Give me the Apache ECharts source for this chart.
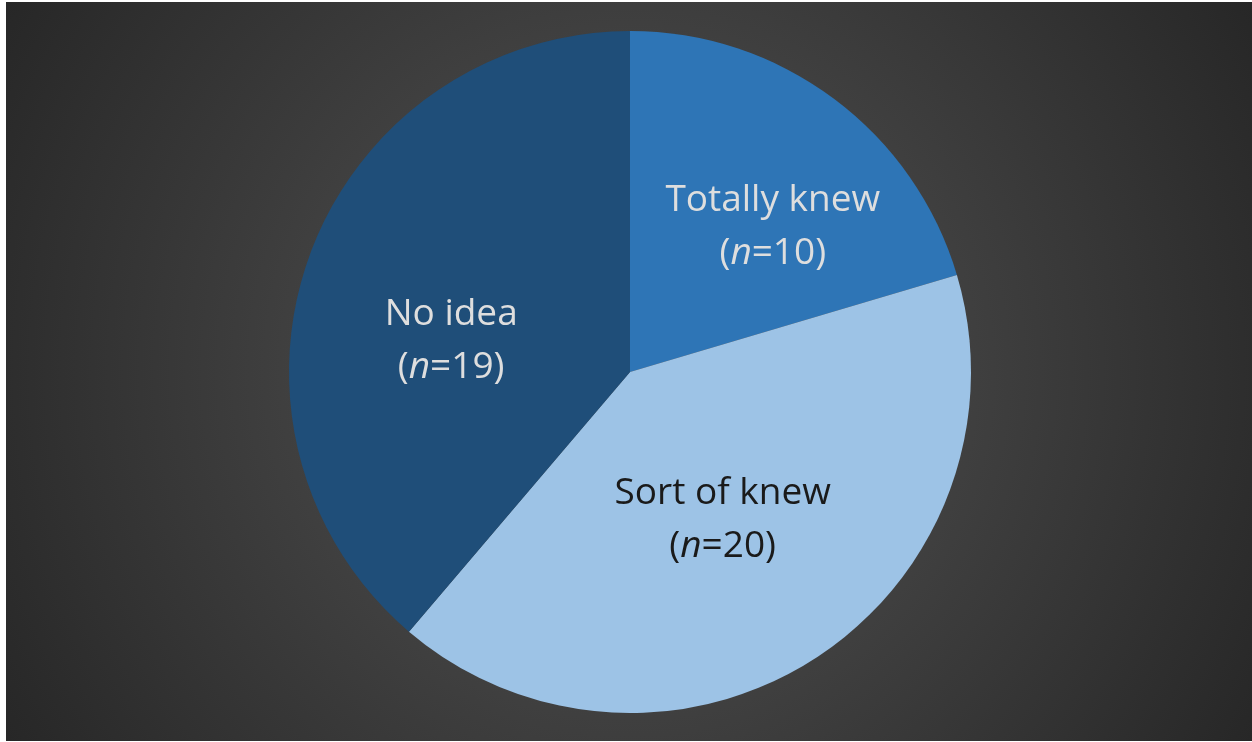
<!DOCTYPE html>
<html>
<head>
<meta charset="utf-8">
<script src="https://cdn.jsdelivr.net/npm/echarts@6/dist/echarts.min.js"></script>
<style>
  html, body { margin: 0; padding: 0; background: #ffffff; }
  #chart { width: 1252px; height: 742px; }
</style>
</head>
<body>
<div id="chart"></div>
<script>
// Survey responses, drawn clockwise from 12 o'clock
const categories = ['Totally knew', 'Sort of knew', 'No idea'];
const counts = [10, 20, 19];
const sliceColors = ['#2E75B6', '#9DC3E6', '#1F4E79'];
const labelColors = ['#dedede', '#1a1a1a', '#dedede'];
const labelOffsets = [[39, -6], [-2, 3], [-16, 29]];

const FONT = '"Open Sans", "Liberation Sans", sans-serif';
const FS = 37;
const LH = 53;

const data = categories.map((name, i) => ({
  name: name,
  value: counts[i],
  itemStyle: { color: sliceColors[i] },
  label: {
    color: labelColors[i],
    offset: labelOffsets[i],
    rich: {
      t: { fontSize: FS, fontFamily: FONT, color: labelColors[i], lineHeight: LH },
      i: { fontSize: FS, fontFamily: FONT, color: labelColors[i], fontStyle: 'italic', lineHeight: LH }
    }
  }
}));

const chart = echarts.init(document.getElementById('chart'), null, { renderer: 'canvas' });
chart.setOption({
  animation: false,
  graphic: [{
    type: 'rect',
    z: -10,
    shape: { x: 6, y: 2, width: 1246, height: 739 },
    style: {
      fill: {
        type: 'radial', x: 0.5, y: 0.5, r: 1.0,
        colorStops: [
          { offset: 0, color: '#4b4b4b' },
          { offset: 0.45, color: '#404040' },
          { offset: 1, color: '#262626' }
        ]
      }
    }
  }],
  series: [{
    type: 'pie',
    center: [630, 372],
    radius: [0, 341],
    startAngle: 90,
    clockwise: true,
    avoidLabelOverlap: false,
    itemStyle: { borderWidth: 0 },
    label: {
      show: true,
      position: 'inside',
      fontSize: FS,
      fontFamily: FONT,
      lineHeight: LH,
      align: 'center',
      formatter: p => '{t|' + p.name + '}\n{t|(}{i|n}{t|=' + p.value + ')}'
    },
    labelLine: { show: false },
    emphasis: { disabled: true },
    data: data
  }]
});
</script>
</body>
</html>
